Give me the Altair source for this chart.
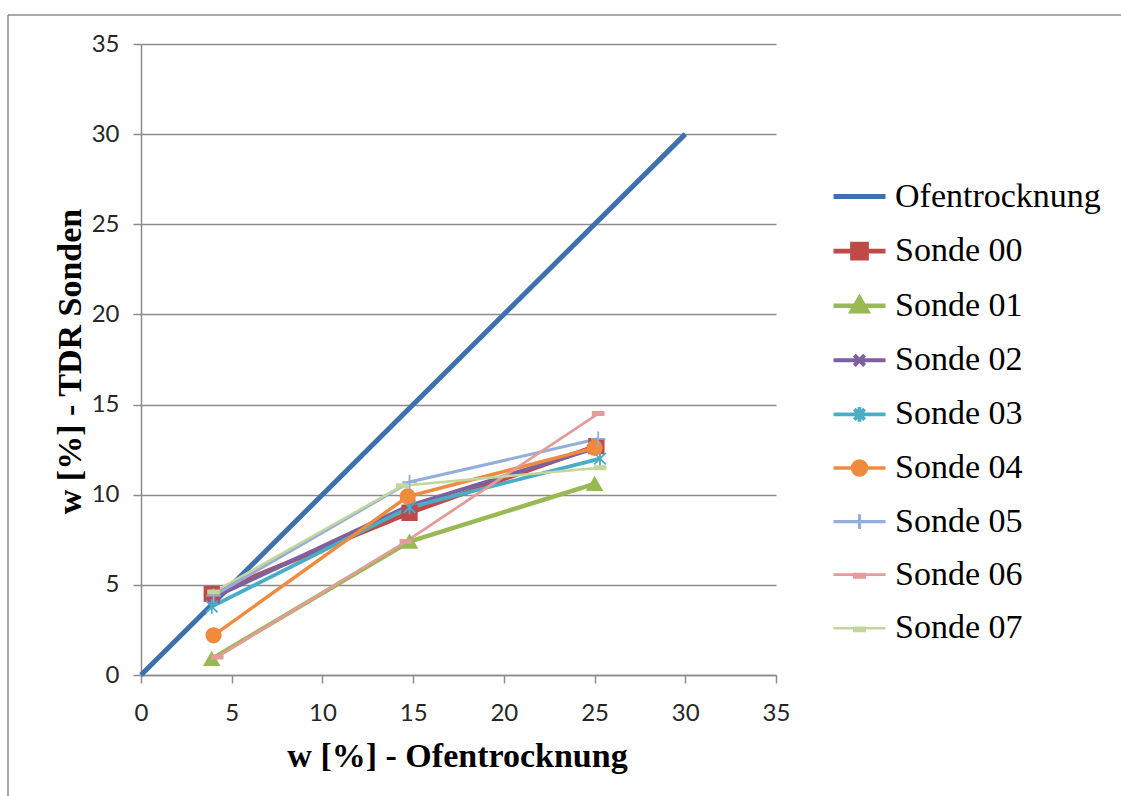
import altair as alt
import pandas as pd

# Series names in legend order
series_names = ["Ofentrocknung", "Sonde 00", "Sonde 01", "Sonde 02", "Sonde 03",
                "Sonde 04", "Sonde 05", "Sonde 06", "Sonde 07"]
series_colors = ["#3E70AD", "#BE4B48", "#98B954", "#7D60A0", "#4AACC5",
                 "#F08A3C", "#93AEDB", "#E39C9A", "#C3D69B"]

# Reference line: oven drying vs. oven drying
ofen_x = [0, 30]
ofen_y = [0, 30]

# TDR probe readings (x = oven drying, y = probe)
s00_x = [3.9, 14.8, 25.1]
s00_y = [4.5, 9.0, 12.7]
s01_x = [3.9, 14.8, 25.0]
s01_y = [0.9, 7.4, 10.6]
s02_x = [4.0, 14.8, 25.1]
s02_y = [4.3, 9.4, 12.6]
s03_x = [3.9, 14.8, 25.3]
s03_y = [3.8, 9.3, 12.0]
s04_x = [4.0, 14.7, 25.0]
s04_y = [2.2, 9.9, 12.6]
s05_x = [4.0, 14.8, 25.2]
s05_y = [4.4, 10.7, 13.1]
s06_x = [4.2, 14.6, 25.2]
s06_y = [1.0, 7.4, 14.5]
s07_x = [4.0, 14.4, 25.3]
s07_y = [4.6, 10.5, 11.5]

axis_ticks = [0, 5, 10, 15, 20, 25, 30, 35]

all_x = [ofen_x, s00_x, s01_x, s02_x, s03_x, s04_x, s05_x, s06_x, s07_x]
all_y = [ofen_y, s00_y, s01_y, s02_y, s03_y, s04_y, s05_y, s06_y, s07_y]

rows = []
for name, xs, ys in zip(series_names, all_x, all_y):
    for xv, yv in zip(xs, ys):
        rows.append({"series": name, "x": xv, "y": yv})
df = pd.DataFrame(rows)
df_pts = df[df["series"] != "Ofentrocknung"]

sonde_names = series_names[1:]
sonde_colors = series_colors[1:]

# Marker shapes of the probe series (unit square -1..1)
marker_shapes = [
    "square",
    "triangle-up",
    "M-0.8,-0.8L0.8,0.8M-0.8,0.8L0.8,-0.8",
    "M-0.8,-0.8L0.8,0.8M-0.8,0.8L0.8,-0.8M0,-1L0,1",
    "circle",
    "M-1,0L1,0M0,-1L0,1",
    "M-0.75,-0.22L0.75,-0.22L0.75,0.22L-0.75,0.22Z",
    "M-0.75,-0.22L0.75,-0.22L0.75,0.22L-0.75,0.22Z",
]
marker_fills = [sonde_colors[0], sonde_colors[1], "transparent", "transparent",
                sonde_colors[4], "transparent", sonde_colors[6], sonde_colors[7]]

# Legend symbols: line segment with the marker on top
legend_paths = [
    "M-1,0L1,0",
    "M-1,0L1,0M-0.27,-0.27L0.27,-0.27L0.27,0.27L-0.27,0.27Z",
    "M-1,0L1,0M0,-0.3L0.3,0.22L-0.3,0.22Z",
    "M-1,0L1,0M-0.2,-0.2L0.2,0.2M-0.2,0.2L0.2,-0.2",
    "M-1,0L1,0M-0.2,-0.2L0.2,0.2M-0.2,0.2L0.2,-0.2M0,-0.28L0,0.28",
    "M-1,0L1,0M0.27,0A0.27,0.27,0,1,1,-0.27,0A0.27,0.27,0,1,1,0.27,0Z",
    "M-1,0L1,0M0,-0.28L0,0.28",
    "M-1,0L1,0M-0.2,-0.02L0.2,-0.02L0.2,0.1L-0.2,0.1Z",
    "M-1,0L1,0M-0.2,-0.02L0.2,-0.02L0.2,0.1L-0.2,0.1Z",
]


def js_list(items):
    return "[" + ",".join("'" + s + "'" for s in items) + "]"


shape_expr = f"{js_list(legend_paths)}[indexof({js_list(series_names)}, datum.value)]"
width_expr = "datum.value === 'Ofentrocknung' ? 4.5 : 2.5"
fill_expr = "scale('color', datum.value)"

grey = "#8c8c8c"
serif = "Liberation Serif"
sans = "Lato"

x_axis = alt.Axis(
    values=axis_ticks, title="w [%] - Ofentrocknung", grid=False,
    domainColor=grey, domainWidth=1.5, tickColor=grey, tickWidth=1.5, tickSize=8,
    labelFont=sans, labelFontSize=24, labelColor="#262626", labelPadding=18,
    labelFlush=False, labelOverlap=False,
    titleFont=serif, titleFontSize=34, titleFontWeight="bold",
    titleColor="black", titleX=316, titleY=91, titleBaseline="alphabetic",
    titleAlign="center",
)
y_axis = alt.Axis(
    values=axis_ticks, title="w [%] - TDR Sonden", grid=True,
    gridColor=grey, gridWidth=1.5,
    domainColor=grey, domainWidth=1.5, tickColor=grey, tickWidth=1.5, tickSize=8,
    labelFont=sans, labelFontSize=24, labelColor="#262626", labelPadding=14,
    labelFlush=False, labelOverlap=False,
    titleFont=serif, titleFontSize=34, titleFontWeight="bold",
    titleColor="black", titleX=-61, titleY=317, titleBaseline="alphabetic",
    titleAlign="center", titleAngle=270,
)

legend = alt.Legend(
    orient="none", legendX=690, legendY=124, title=None,
    symbolSize=2704, labelFont=alt.ExprRef(expr=f"'{serif}'"), labelFontSize=34,
    labelColor="black", labelOffset=7,
    rowPadding=8.6, padding=0, labelLimit=400,
    symbolType=alt.ExprRef(expr=shape_expr),
    symbolStrokeWidth=alt.ExprRef(expr=width_expr),
    symbolFillColor=alt.ExprRef(expr=fill_expr),
)

x_scale = alt.Scale(domain=[0, 35], nice=False, zero=False)
y_scale = alt.Scale(domain=[0, 35], nice=False, zero=False)

lines = alt.Chart(df).mark_line().encode(
    x=alt.X("x:Q", scale=x_scale, axis=x_axis),
    y=alt.Y("y:Q", scale=y_scale, axis=y_axis),
    color=alt.Color("series:N", scale=alt.Scale(domain=series_names, range=series_colors),
                    legend=legend),
    strokeWidth=alt.StrokeWidth("series:N",
                                scale=alt.Scale(domain=series_names,
                                                range=[5] + [2.5] * 8),
                                legend=None),
)

points = alt.Chart(df_pts).mark_point(opacity=1, strokeWidth=1.8, size=210).encode(
    x=alt.X("x:Q", scale=x_scale),
    y=alt.Y("y:Q", scale=y_scale),
    shape=alt.Shape("series:N", scale=alt.Scale(domain=sonde_names, range=marker_shapes),
                    legend=None),
    fill=alt.Fill("series:N", scale=alt.Scale(domain=sonde_names, range=marker_fills),
                  legend=None),
    stroke=alt.Stroke("series:N", scale=alt.Scale(domain=sonde_names, range=sonde_colors),
                      legend=None),
)

# Outer chart frame (top and left edges)
frame = alt.Data(values=[{}])
frame_left = alt.Chart(frame).mark_rule(color=grey, strokeWidth=1.5).encode(
    x=alt.value(-133), y=alt.value(-29), y2=alt.value(800))
frame_top = alt.Chart(frame).mark_rule(color=grey, strokeWidth=1.5).encode(
    x=alt.value(-133), x2=alt.value(1000), y=alt.value(-29))

chart = alt.layer(frame_left, frame_top, lines, points).properties(
    width=635, height=631,
    padding={"left": 141, "top": 44, "right": 345, "bottom": 121},
    autosize=alt.AutoSizeParams(type="none"),
    background="white",
).configure(
    style={"guide-label": {"font": serif}}
).configure_view(stroke=None)

chart.save("out.html", embed_options={"renderer": "svg", "actions": False})
